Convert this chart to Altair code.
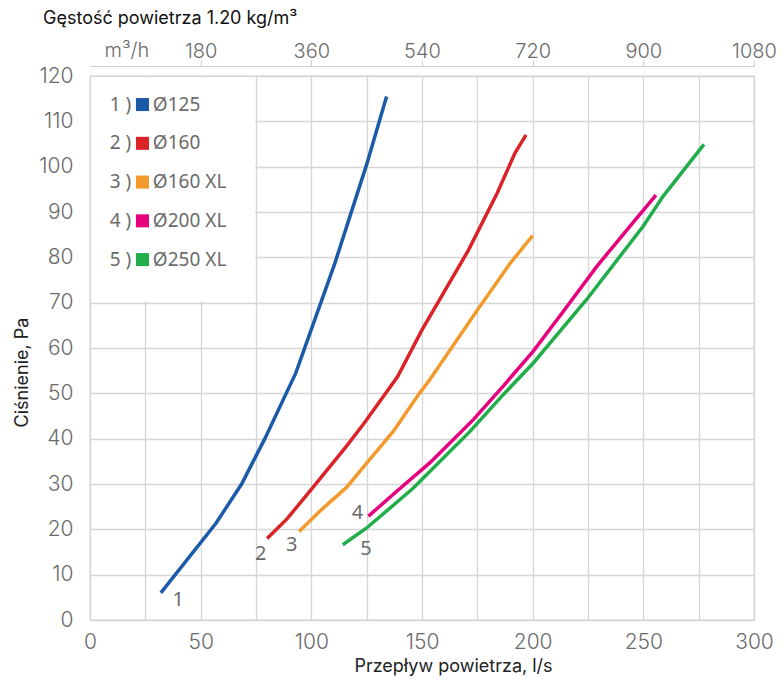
import altair as alt
import pandas as pd

# ---- data ----
names = ["Ø125", "Ø160", "Ø160 XL", "Ø200 XL", "Ø250 XL"]
nums = ["1 )", "2 )", "3 )", "4 )", "5 )"]
colors = ["#1a5aa8", "#da2329", "#f39a2c", "#e6007e", "#21ad4a"]

q1 = [32, 57, 68.5, 79, 93, 110.5, 125, 134]
p1 = [6, 21.4, 30, 40, 54.5, 78.5, 100.5, 115.5]
q2 = [80, 89, 100, 116, 124, 139, 150, 171, 184, 192, 197]
p2 = [18, 22.3, 28.8, 38.4, 43.5, 53.7, 64, 81.6, 94.2, 103, 107]
q3 = [94.5, 104.5, 116, 125, 137, 149, 153.5, 174.5, 190, 200]
p3 = [19.5, 24.3, 29.3, 34.6, 41.6, 50.1, 53, 68, 78.8, 84.8]
q4 = [125.8, 138.6, 153.6, 173.2, 186.7, 200.3, 213.9, 229, 244, 255.7]
p4 = [22.9, 28.4, 34.7, 44.2, 51.6, 59.3, 68.1, 78, 86.9, 93.7]
q5 = [114.2, 125, 146.1, 171.7, 186.7, 200.3, 224.4, 250, 259, 277.4]
p5 = [16.6, 20.3, 29.1, 41.6, 49.7, 56.7, 70.7, 86.9, 93.5, 104.9]

curve_labels = ["1", "2", "3", "4", "5"]
curve_label_q = [39.9, 77.1, 91.1, 120.8, 124.7]
curve_label_p = [4.5, 14.5, 16.6, 23.7, 15.6]

x_ticks = list(range(0, 301, 25))
y_ticks = list(range(0, 121, 10))
top_ticks = [180, 360, 540, 720, 900, 1080]

title_top = "Gęstość powietrza 1.20 kg/m³"
x_title = "Przepływ powietrza, l/s"
y_title = "Ciśnienie, Pa"
top_unit = "m³/h"

# ---- tables ----
qs = [q1, q2, q3, q4, q5]
ps = [p1, p2, p3, p4, p5]
rows = []
for i, (q, p) in enumerate(zip(qs, ps)):
    for j, (a, b) in enumerate(zip(q, p)):
        rows.append({"series": names[i], "q": a, "p": b, "ord": j})
df = pd.DataFrame(rows)

lab_df = pd.DataFrame({"t": curve_labels, "q": curve_label_q, "p": curve_label_p})

# legend layout (data coordinates inside the white box)
leg_df = pd.DataFrame({
    "series": names,
    "num": nums,
    "p": [113.7 - 8.55 * i for i in range(5)],
})

AXIS_FONT = "Inter"
LEG_FONT = "Noto Sans"
GRAY = "#6b6b6b"

xs = alt.Scale(domain=[0, 300], nice=False)
ys = alt.Scale(domain=[0, 120], nice=False)
cs = alt.Scale(domain=names, range=colors)

x_axis = alt.Axis(
    values=x_ticks,
    labelExpr="datum.value % 50 == 0 ? datum.label : ''",
    labelFlush=False,
    domain=False, ticks=False, labelPadding=11,
    labelFontSize=21, labelColor=GRAY, labelFont=AXIS_FONT, labelFontWeight=300,
    gridColor="#d6d6d6", gridWidth=1.3,
    title=x_title, titleFontSize=18, titleFontWeight=400, titleColor="#222",
    titleFont=AXIS_FONT, titleX=363, titleY=51, titleBaseline="alphabetic", titleAlign="center",
)
y_axis = alt.Axis(
    values=y_ticks, domain=False, ticks=False, labelPadding=17,
    labelFlush=False,
    labelFontSize=21, labelColor=GRAY, labelFont=AXIS_FONT, labelFontWeight=300,
    gridColor="#d6d6d6", gridWidth=1.3,
    title=y_title, titleFontSize=18, titleFontWeight=400, titleColor="#222",
    titleFont=AXIS_FONT, titleX=-68, titleY=296, titleBaseline="middle", titleAlign="center",
    titleAngle=-90,
)

X = alt.X("q:Q", scale=xs, axis=x_axis)
Y = alt.Y("p:Q", scale=ys, axis=y_axis)

box = alt.Chart(pd.DataFrame({"q": [0.5], "q2": [74.6], "p": [70.3], "p2": [119.7]})).mark_rect(
    color="white"
).encode(x=X, x2="q2:Q", y=Y, y2="p2:Q")

lines = alt.Chart(df).mark_line(strokeWidth=3.5, strokeCap="butt").encode(
    x=X, y=Y,
    color=alt.Color("series:N", scale=cs, legend=None),
    order="ord:Q",
)

labels = alt.Chart(lab_df).mark_text(
    font=LEG_FONT, fontSize=20, color=GRAY, align="center", baseline="middle"
).encode(x=X, y=Y, text="t:N")

leg_sq = alt.Chart(leg_df).transform_calculate(q="23.7").mark_point(
    shape="square", filled=True, size=170, opacity=1
).encode(x=X, y=Y, color=alt.Color("series:N", scale=cs, legend=None))

leg_num = alt.Chart(leg_df).transform_calculate(q="18.6").mark_text(
    font=LEG_FONT, fontSize=19, color=GRAY, align="right", baseline="middle"
).encode(x=X, y=Y, text="num:N")

leg_lab = alt.Chart(leg_df).transform_calculate(q="28.4").mark_text(
    font=LEG_FONT, fontSize=19, color=GRAY, align="left", baseline="middle"
).encode(x=X, y=Y, text="series:N")

top_title = alt.Chart(pd.DataFrame({"t": [title_top]})).mark_text(
    font=AXIS_FONT, fontSize=18, fontWeight=400, color="#111", align="left", baseline="middle"
).encode(x=alt.value(-47), y=alt.value(-57), text="t:N")

inner = alt.layer(box, lines, labels, leg_sq, leg_num, leg_lab, top_title)

top_layer = alt.Chart(pd.DataFrame({"m3h": [60], "t": [top_unit]})).mark_text(
    font=AXIS_FONT, fontSize=20, fontWeight=300, color=GRAY, align="center", baseline="alphabetic"
).encode(
    x=alt.X("m3h:Q", scale=alt.Scale(domain=[0, 1080], nice=False),
            axis=alt.Axis(orient="top", values=top_ticks, offset=10, grid=False, format="d",
                          labelFlush=False,
                          domainColor="#cccccc", tickColor="#cccccc", tickSize=6,
                          labelFontSize=20, labelColor=GRAY, labelFont=AXIS_FONT,
                          labelFontWeight=300,
                          labelBaseline="alphabetic", labelPadding=3, title=None)),
    y=alt.value(-19),
    text="t:N",
)

chart = alt.layer(inner, top_layer).resolve_scale(x="independent").properties(
    width=664, height=544,
    autosize=alt.AutoSizeParams(type="none"),
    padding={"left": 82, "top": 68, "right": 22, "bottom": 57},
).configure_view(stroke="#d6d6d6", strokeWidth=1.3)

chart.save("out.html", embed_options={"renderer": "svg", "actions": False})
